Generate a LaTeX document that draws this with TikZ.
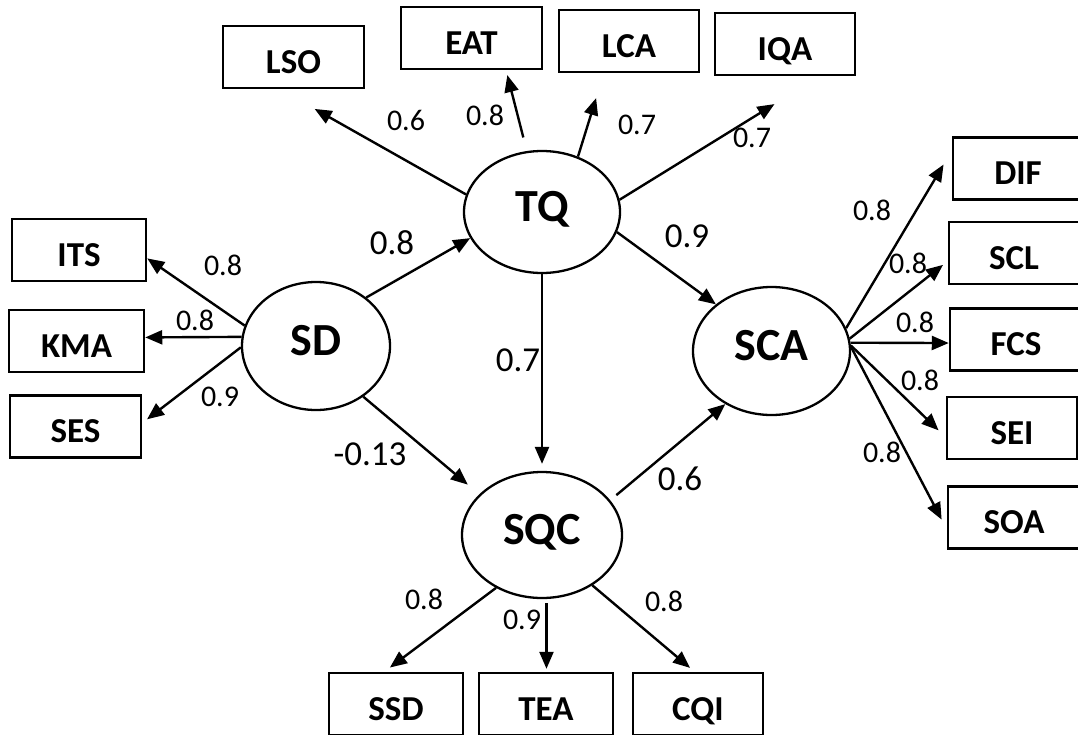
\documentclass[tikz,border=0pt]{standalone}
\usepackage{fontspec}
\setmainfont{Carlito}
\usetikzlibrary{shapes.geometric,arrows.meta}

\begin{document}
\begin{tikzpicture}[x=1pt,y=-1pt,
	latent/.style={ellipse,draw,line width=2.3pt,inner sep=0pt,text height=30pt,text depth=12pt,font=\fontsize{46}{46}\selectfont\bfseries},
	indic/.style={rectangle,draw,line width=2.5pt,minimum height=62pt,inner sep=0pt,text height=32pt,text depth=0pt,font=\fontsize{35}{35}\selectfont\bfseries},
	arr/.style={line width=2.4pt,-{Triangle[length=17pt,width=14pt]}},
	load/.style={inner sep=0pt,font=\fontsize{30}{30}\selectfont},
	coef/.style={inner sep=0pt,font=\fontsize{35}{35}\selectfont}]
				\useasboundingbox (0,0) rectangle (1078,734);
				
				% latent variables
				\node[latent,minimum width=156pt,minimum height=122pt] (TQ) at (542,212) {TQ};
				\node[latent,minimum width=148pt,minimum height=128pt] (SD) at (316,346) {SD};
				\node[latent,minimum width=157pt,minimum height=128pt] (SCA) at (771.5,351) {SCA};
				\node[latent,minimum width=160pt,minimum height=126pt] (SQC) at (542,535) {SQC};
				
				% indicators
				\node[indic,minimum width=141pt] (LSO) at (293.5,57) {LSO};
				\node[indic,minimum width=141pt] (EAT) at (471.5,38) {EAT};
				\node[indic,minimum width=140pt] (LCA) at (629,41) {LCA};
				\node[indic,minimum width=140pt] (IQA) at (785,44) {IQA};
				
				\node[indic,minimum width=134pt] (ITS) at (79,250) {ITS};
				\node[indic,minimum width=135pt] (KMA) at (76.5,341) {KMA};
				\node[indic,minimum width=131pt] (SES) at (75.5,426.5) {SES};
				
				\node[indic,minimum width=130pt] (DIF) at (1018,168.5) {DIF};
				\node[indic,minimum width=130pt] (SCL) at (1014,253) {SCL};
				\node[indic,minimum width=132pt] (FCS) at (1016,339.5) {FCS};
				\node[indic,minimum width=130pt] (SEI) at (1012,428) {SEI};
				\node[indic,minimum width=132pt] (SOA) at (1014,517.5) {SOA};
				
				\node[indic,minimum width=134pt] (SSD) at (396,704) {SSD};
				\node[indic,minimum width=134pt] (TEA) at (546,704) {TEA};
				\node[indic,minimum width=130pt] (CQI) at (698,704) {CQI};
				
				% structural paths
				\draw[arr] (SD.44) -- (TQ.200);
				\draw[arr,shorten >=15pt] (SD.-47) -- (SQC.147);
				\draw[arr] (TQ.-15) -- (SCA.140);
				\draw[arr,shorten >=7pt] (TQ.-90) -- (SQC.90);
				\draw[arr,shorten <=8pt] (SQC.27) -- (SCA.-131);
				
				% TQ loadings
				\draw[arr,shorten >=40pt] (TQ.167) -- (LSO.-113);
				\draw[arr,shorten <=14pt,shorten >=5pt] (TQ.104) -- (EAT.-43);
				\draw[arr,shorten >=26pt] (TQ.57) -- (LCA.-128);
				\draw[arr,shorten >=53pt] (TQ.9) -- (IQA.-43);
				
				% SD loadings
				\draw[arr] (SD.164) -- (ITS.-7);
				\draw[arr] (SD.173) -- (KMA.3);
				\draw[arr,shorten >=6pt] (SD.181) -- (SES.3);
				
				% SCA loadings
				\draw[arr,shorten >=16pt] (SCA.17) -- (DIF.165);
				\draw[arr,shorten >=6pt] (SCA.9) -- (SCL.187);
				\draw[arr] (SCA.6) -- (FCS.183);
				\draw[arr,shorten >=10pt] (SCA.4) -- (SEI.188);
				\draw[arr,shorten >=11pt] (SCA.3) -- (SOA.190);
				
				% SQC loadings
				\draw[arr,shorten >=7pt] (SQC.-131) -- (SSD.110);
				\draw[arr,shorten <=4pt,shorten >=3pt] (SQC.-86) -- (SQC.-86 |- TEA.north);
				\draw[arr,shorten >=6pt] (SQC.-45) -- (CQI.96);
				
				% coefficients
				\node[coef] (cSDTQ) at (392,243) {0.8};
				\node[coef] (cSDSQC) at (370,454) {-0.13};
				\node[coef] (cTQSCA) at (687,236) {0.9};
				\node[coef] (cTQSQC) at (518,360) {0.7};
				\node[coef] (cSQCSCA) at (680,479) {0.6};
				
				\node[load] (wLSO) at (406,120) {0.6};
				\node[load] (wEAT) at (485,115) {0.8};
				\node[load] (wLCA) at (637,125) {0.7};
				\node[load] (wIQA) at (752,138) {0.7};
				
				\node[load] (wITS) at (223,265) {0.8};
				\node[load] (wKMA) at (195,320) {0.8};
				\node[load] (wSES) at (220,397) {0.9};
				
				\node[load] (wDIF) at (872,210) {0.8};
				\node[load] (wSCL) at (908,263) {0.8};
				\node[load] (wFCS) at (915,322) {0.8};
				\node[load] (wSEI) at (920,380) {0.8};
				\node[load] (wSOA) at (882,452) {0.8};
				
				\node[load] (wSSD) at (424,599) {0.8};
				\node[load] (wTEA) at (522,620) {0.9};
				\node[load] (wCQI) at (664,601) {0.8};
\end{tikzpicture}
\end{document}
